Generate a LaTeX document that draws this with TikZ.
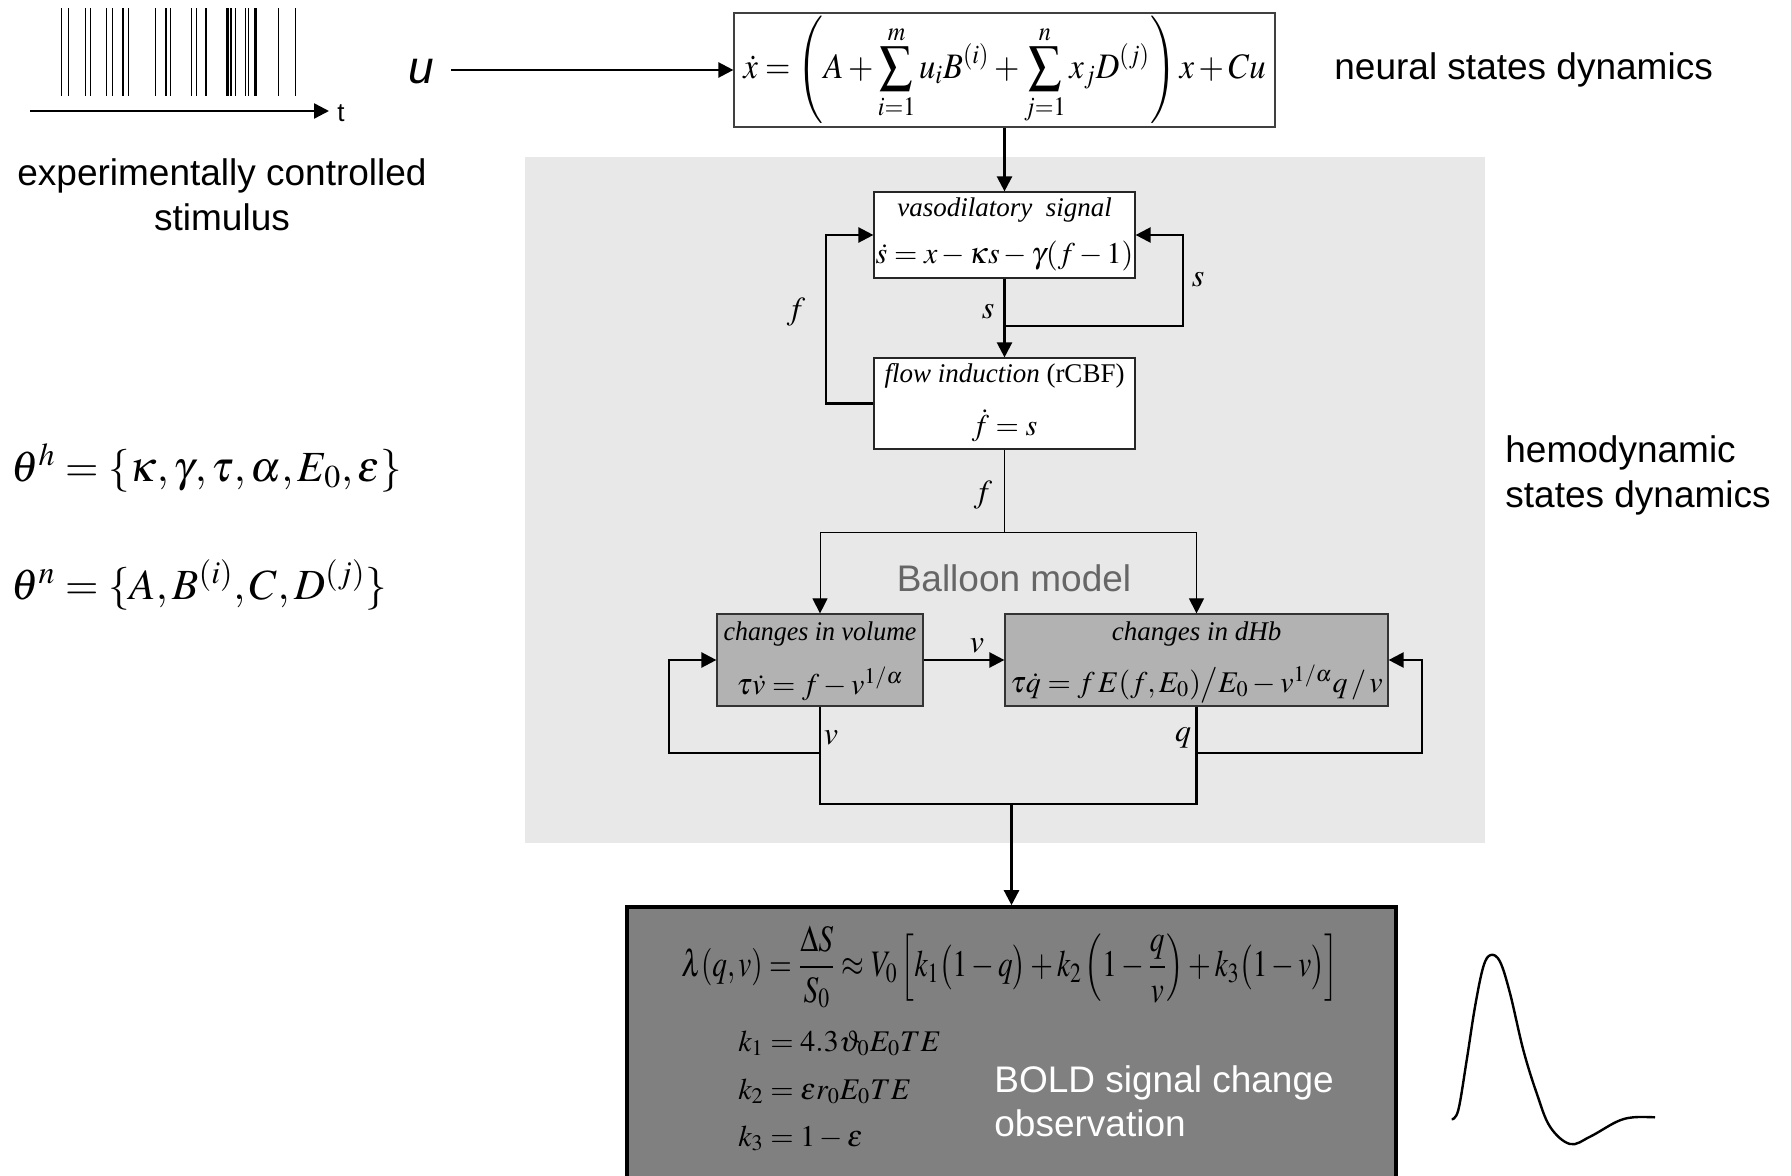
\documentclass[tikz,border=0pt]{standalone}
\usepackage{mathptmx}
\usepackage[no-math]{fontspec}
\setmainfont{Liberation Serif}
\newfontfamily\arialfont{Liberation Sans}
\usetikzlibrary{arrows.meta}

\definecolor{panelgray}{gray}{0.91}
\definecolor{stategray}{gray}{0.70}
\definecolor{obsgray}{gray}{0.50}
\definecolor{titlegray}{gray}{0.40}

\tikzset{
  sanslbl/.style={font=\arialfont\fontsize{18.5}{22.5}\selectfont, inner sep=0pt},
  wire/.style={line width=1.2pt},
  thinwire/.style={line width=0.5pt},
  tip/.style={-{Triangle[length=7.5pt,width=7.5pt]}},
  eqbox/.style={draw=black!75, line width=0.6pt, fill=white, inner sep=0pt},
  statebox/.style={draw=black!80, line width=0.6pt, fill=stategray, inner sep=0pt},
  boxtitle/.style={font=\itshape\fontsize{13.5}{16}\selectfont, inner sep=0pt},
  eq/.style={font=\fontsize{15}{18}\selectfont, inner sep=0pt},
  varlbl/.style={font=\fontsize{16}{18}\selectfont, inner sep=0pt},
  paramset/.style={font=\fontsize{21.5}{24}\selectfont, inner sep=0pt, anchor=west},
}

\begin{document}
\begin{tikzpicture}[x=0.5pt, y=-0.5pt]
\clip (0,0) rectangle (1791,1176);
\useasboundingbox (0,0) rectangle (1791,1176);

% hemodynamic panel
\fill[panelgray] (525,157) rectangle (1485,843);

% stimulus train
\foreach \px in {61,68.3,85.7,90,106.7,112.3,128.7,155.3,165.7,166.7,170,191.7,196.7,226,227.3,228.7,230,231.7,235,245,248.3,256.7,278.3,295.7}
  \draw[line width=0.5pt] (\px,8.5) -- (\px,96.5);
\foreach \px in {123.3,206,255}
  \draw[line width=1pt] (\px,8.5) -- (\px,96.5);
\coordinate (t0) at (30,111);
\coordinate (t1) at (329,111);
\draw[wire,tip] (t0) -- (t1);
\node[font=\arialfont\fontsize{13}{15}\selectfont, inner sep=0pt] (tlab) at (341,113) {t};
\node[sanslbl, align=center] (stimlab) at (222,195) {experimentally controlled\\stimulus};

% input u
\node[font=\arialfont\itshape\fontsize{23}{26}\selectfont, inner sep=0pt] (u) at (421,72) {u};
\coordinate (ustart) at (451,70);

% neural state equation
\node[eqbox, minimum width=270.5pt, minimum height=57pt] (top) at (1004.5,70) {};
\node[font=\fontsize{16}{19}\selectfont, inner sep=0pt] (topeq) at (1004.5,70)
  {\scalebox{1.02}[1.12]{$\displaystyle \dot{x}=\left(A+\sum_{i=1}^{m}u_iB^{(i)}+\sum_{j=1}^{n}x_jD^{(j)}\right)x+Cu$}};
\node[sanslbl, anchor=west] (neural) at (1334,70) {neural states dynamics};
\draw[wire,tip] (ustart) -- (top.west);

% vasodilatory signal
\node[eqbox, draw=black!85, minimum width=130.5pt, minimum height=43pt] (vaso) at (1004.5,235) {};
\node[boxtitle] (vasot) at (1004.5,210) {vasodilatory\ \ signal};
\node[eq] (vasoeq) at (1004.5,256) {$\dot{s}=x-\kappa s-\gamma(f-1)$};

% flow induction
\node[eqbox, draw=black!85, minimum width=130.5pt, minimum height=45.5pt] (flow) at (1004.5,403.5) {};
\node[font=\fontsize{13.5}{16}\selectfont, inner sep=0pt] (flowt) at (1004.5,376) {\textit{flow induction} (rCBF)};
\node[eq] (floweq) at (1004.5,426) {$\dot{f}=s$};

% changes in volume and dHb
\node[statebox, minimum width=103pt, minimum height=46pt] (vol) at (820,660) {};
\node[boxtitle] (volt) at (820,634) {\scalebox{0.96}[1]{changes in volume}};
\node[eq] (voleq) at (820,684) {$\tau\dot{v}=f-v^{1/\alpha}$};
\node[statebox, minimum width=191.5pt, minimum height=46pt] (dhb) at (1196.5,660) {};
\node[boxtitle] (dhbt) at (1196.5,634) {changes in dHb};
\node[eq] (dhbeq) at (1196.5,684) {$\tau\dot{q}=f\,E(f,E_0)\big/E_0-v^{1/\alpha}q\,/\,v$};

\node[font=\arialfont\fontsize{18.5}{22}\selectfont, text=titlegray, inner sep=0pt] (balloon) at (1014,578) {Balloon model};
\node[sanslbl, align=left, anchor=west] (hemo) at (1505,475) {hemodynamic\\states dynamics};

% BOLD observation
\node[draw=black, line width=1.8pt, fill=obsgray, minimum width=384.5pt, minimum height=150pt, inner sep=0pt] (bold) at (1011.5,1057) {};
\node[font=\fontsize{17}{20}\selectfont, inner sep=0pt, anchor=west] (lam) at (681,967)
  {\scalebox{0.86}[1.1]{$\displaystyle \lambda(q,v)=\frac{\Delta S}{S_0}\approx V_0\left[k_1\bigl(1-q\bigr)+k_2\left(1-\frac{q}{v}\right)+k_3\bigl(1-v\bigr)\right]$}};
\node[eq, anchor=base west] (k1) at (738,1051) {$k_1=4.3\vartheta_0E_0TE$};
\node[eq, anchor=base west] (k2) at (738,1099) {$k_2=\varepsilon r_0E_0TE$};
\node[eq, anchor=base west] (k3) at (738,1146) {$k_3=1-\varepsilon$};
\node[sanslbl, text=white, align=left, anchor=west, font=\arialfont\fontsize{18.5}{22}\selectfont] (boldt) at (994,1101) {BOLD signal change\\observation};

% parameter sets
\node[paramset] (thh) at (11,468) {$\theta^h=\{\kappa,\gamma,\tau,\alpha,E_0,\varepsilon\}$};
\node[paramset] (thn) at (11,585) {$\theta^n=\{A,B^{(i)},C,D^{(j)}\}$};

% connectors
\draw[wire,tip] (top.south) -- (vaso.north);
\draw[wire,tip] (vaso.south) -- (flow.north);
\coordinate (sj) at (1004.5,326);
\coordinate (sr) at (1183,326);
\draw[wire,tip] (sj) -- (sr) |- (vaso.east);
\coordinate (fl) at (826,403.5);
\draw[wire,tip] (flow.west) -- (fl) |- (vaso.west);
\coordinate (split) at (1004.5,532);
\draw[thinwire] (flow.south) -- (split);
\draw[thinwire,tip] (split) -| (vol.north);
\draw[thinwire,tip] (split) -| (dhb.north);
\draw[wire,tip] (vol.east) -- (dhb.west);
\coordinate (vl) at (669,753);
\coordinate (ql) at (1422,753);
\draw[wire,tip] (vol.south |- vl) -- (vl) |- (vol.west);
\draw[wire,tip] (dhb.south |- ql) -- (ql) |- (dhb.east);
\coordinate (merge) at (1011.5,804);
\draw[wire] (vol.south) |- (merge) -| (dhb.south);
\draw[wire,tip] (merge) -- (bold.north);

% variable labels
\node[varlbl] (ls1) at (1198,280) {$s$};
\node[varlbl] (ls2) at (988,312) {$s$};
\node[varlbl] (lf1) at (796,312) {$f$};
\node[varlbl] (lf2) at (983,495) {$f$};
\node[varlbl] (lv1) at (977,646) {$v$};
\node[varlbl] (lv2) at (831,738) {$v$};
\node[varlbl] (lq) at (1183,738) {$q$};

% hemodynamic response
\draw[line width=1.2pt, line join=round] plot[smooth, tension=0.6] coordinates {
  (1451.7,1119.3) (1458.3,1110) (1466.7,1060) (1475,1006.7) (1483.3,966.7)
  (1490.7,955) (1500,961.7) (1510,993.3) (1523.3,1050) (1536.7,1093.3)
  (1550,1126.7) (1570,1144) (1590,1136.7) (1616.7,1121.7) (1633.3,1117.3) (1655,1117.3)};
\end{tikzpicture}
\end{document}
